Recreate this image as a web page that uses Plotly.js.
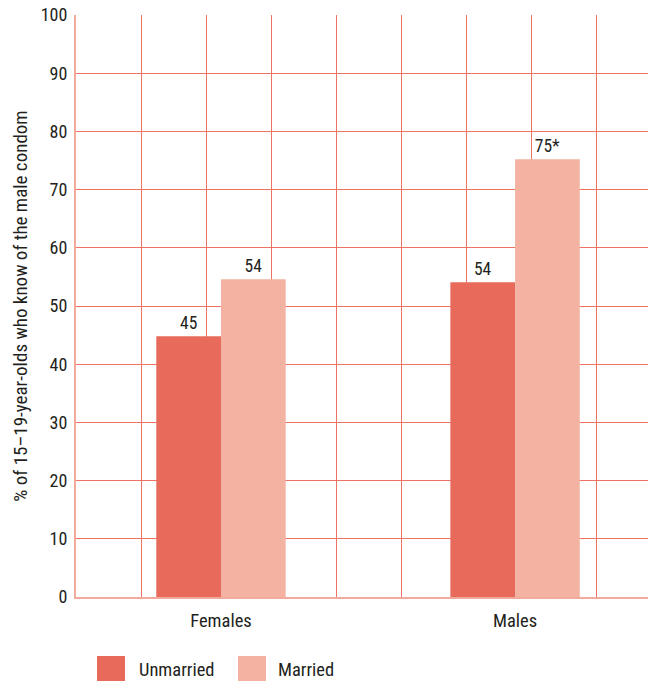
<!DOCTYPE html>
<html>
<head>
<meta charset="utf-8">
<script src="https://cdn.plot.ly/plotly-3.0.1.min.js"></script>
<style>
html,body{margin:0;padding:0;background:#fff;}
#chart{width:648px;height:681px;}
</style>
</head>
<body>
<div id="chart"></div>
<script>
// ---- data ----
const categories = ["Females", "Males"];
const seriesNames = ["Unmarried", "Married"];
const unmarried = [44.8, 54.1];
const married = [54.6, 75.2];
const unmarriedLabels = ["45", "54"];
const marriedLabels = ["54", "75*"];
const yTicks = [0, 10, 20, 30, 40, 50, 60, 70, 80, 90, 100];
const yTitle = "% of 15\u201319-year-olds who know of the male condom";

// ---- styles ----
const FONT = '"Roboto Condensed", "Liberation Sans Narrow", "Open Sans Condensed", "DejaVu Sans Condensed", Arial, sans-serif';
const TXT = '#231f20';
const C_UN = '#e86a5b';
const C_MA = '#f3b2a2';
const GRID = '#ec7262';
const AXL = '#f2aa9c';

const traces = [
  {
    type: 'bar', name: seriesNames[0], x: categories, y: unmarried,
    text: unmarriedLabels, textposition: 'outside', cliponaxis: false,
    textfont: {family: FONT, size: 17.5, color: TXT},
    marker: {color: C_UN, line: {width: 0}}, showlegend: false, hoverinfo: 'x+y'
  },
  {
    type: 'bar', name: seriesNames[1], x: categories, y: married,
    text: marriedLabels, textposition: 'outside', cliponaxis: false,
    textfont: {family: FONT, size: 17.5, color: TXT},
    marker: {color: C_MA, line: {width: 0}}, showlegend: false, hoverinfo: 'x+y'
  },
  { type: 'scatter', x: [], y: [], xaxis: 'x2', yaxis: 'y', showlegend: false, hoverinfo: 'skip' }
];

// legend drawn as shapes + annotations (large swatches)
const plotL = 76, plotW = 572, plotB = 597, plotH = 582;
const px = v => (v - plotL) / plotW;
const py = v => (plotB - v) / plotH;
const legendColors = [C_UN, C_MA];
const legendSw = [[97, 125], [238, 266]];
const legendTx = [137, 276];
const shapes = [], annotations = [];
seriesNames.forEach((n, i) => {
  shapes.push({type: 'rect', xref: 'paper', yref: 'paper',
    x0: px(legendSw[i][0]), x1: px(legendSw[i][1]), y0: py(656), y1: py(681),
    fillcolor: legendColors[i], line: {width: 0}});
  annotations.push({xref: 'paper', yref: 'paper', x: px(legendTx[i]), y: py(669.5),
    xanchor: 'left', yanchor: 'middle', showarrow: false, text: n,
    font: {family: FONT, size: 18.5, color: TXT}});
});

const layout = {
  width: 648, height: 681,
  margin: {l: 76, r: 0, t: 15, b: 84, pad: 0},
  paper_bgcolor: '#fff', plot_bgcolor: '#fff',
  font: {family: FONT, size: 18, color: TXT},
  barmode: 'group', bargap: 0.56, bargroupgap: 0,
  xaxis: {
    type: 'category', range: [-0.493, 1.452],
    showgrid: false, zeroline: false,
    showline: true, linecolor: AXL, linewidth: 2,
    ticks: '', ticklabelstandoff: 6,
    tickfont: {family: FONT, size: 18.5, color: TXT},
    fixedrange: true
  },
  xaxis2: {
    overlaying: 'x', anchor: 'y', side: 'bottom',
    range: [0, 8.8], tick0: 0, dtick: 1,
    showgrid: true, gridcolor: GRID, gridwidth: 1,
    showticklabels: false, ticks: '', zeroline: false, showline: false,
    fixedrange: true
  },
  yaxis: {
    range: [0, 100], tickvals: yTicks,
    showgrid: true, gridcolor: GRID, gridwidth: 1,
    zeroline: false, showline: true, linecolor: AXL, linewidth: 2,
    ticks: '', ticklabelstandoff: 3,
    tickfont: {family: FONT, size: 18, color: TXT},
    title: {text: yTitle, font: {family: FONT, size: 19, color: TXT}, standoff: 8},
    automargin: false, fixedrange: true
  },
  shapes: shapes,
  annotations: annotations,
  showlegend: false
};

Plotly.newPlot('chart', traces, layout, {displayModeBar: false, staticPlot: true});
</script>
</body>
</html>
